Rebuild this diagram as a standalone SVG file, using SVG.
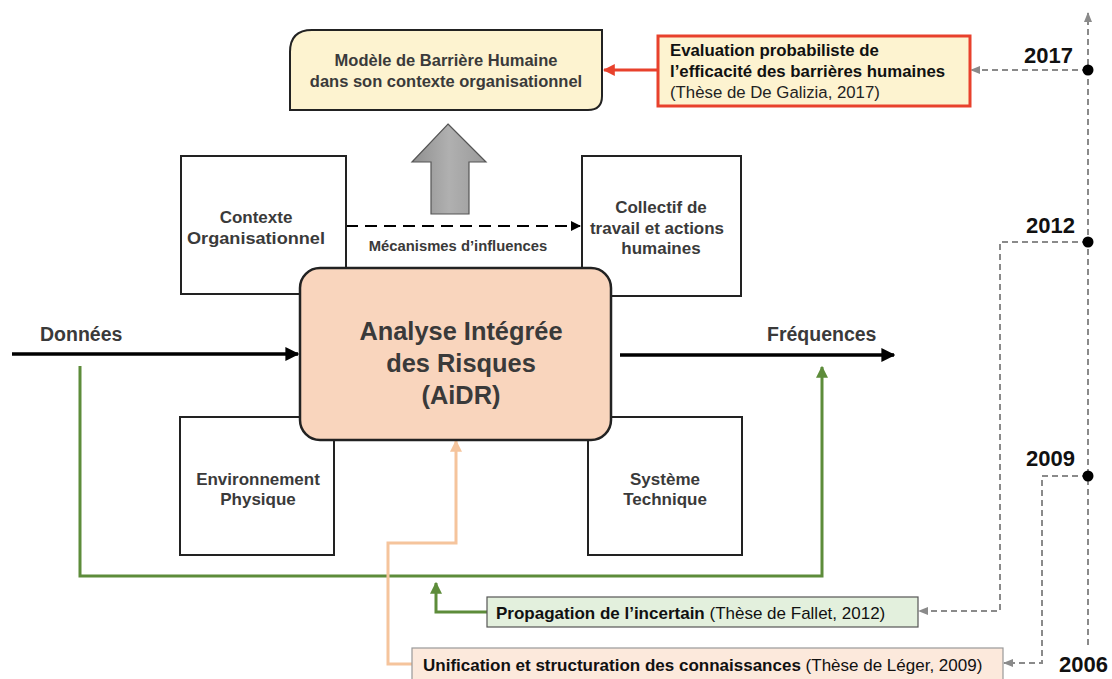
<svg xmlns="http://www.w3.org/2000/svg" width="1112" height="679" viewBox="0 0 1112 679">
<style>
text{font-family:"Liberation Sans",Arial,sans-serif;fill:#3a3a3a}
.b{font-weight:bold}
.box{fill:#fff;stroke:#222;stroke-width:2}
.lbl{font-size:17px;font-weight:bold;text-anchor:middle}
.dash{fill:none;stroke:#8a8a8a;stroke-width:2;stroke-dasharray:6 4}
.yr{font-size:22px;font-weight:bold;fill:#111}
</style>
<defs>
<marker id="ab" viewBox="0 0 10 10" refX="9" refY="5" markerWidth="4" markerHeight="4" orient="auto"><path d="M0,0L10,5L0,10z" fill="#000"/></marker>
<marker id="ab2" viewBox="0 0 10 10" refX="9" refY="5" markerWidth="5" markerHeight="5" orient="auto"><path d="M0,0L10,5L0,10z" fill="#000"/></marker>
<marker id="ag" viewBox="0 0 10 10" refX="9" refY="5" markerWidth="4" markerHeight="4" orient="auto"><path d="M0,0L10,5L0,10z" fill="#5d8c3a"/></marker>
<marker id="ao" viewBox="0 0 10 10" refX="9" refY="5" markerWidth="4" markerHeight="4" orient="auto"><path d="M0,0L10,5L0,10z" fill="#f5c49c"/></marker>
<marker id="ar" viewBox="0 0 10 10" refX="9" refY="5" markerWidth="4" markerHeight="4" orient="auto"><path d="M0,0L10,5L0,10z" fill="#e8412c"/></marker>
<marker id="ay" viewBox="0 0 10 10" refX="9" refY="5" markerWidth="5" markerHeight="5" orient="auto"><path d="M0,1L10,5L0,9z" fill="#8a8a8a"/></marker>
<linearGradient id="gg" x1="0" x2="1"><stop offset="0" stop-color="#8f8f8f"/><stop offset="0.5" stop-color="#b0b0b0"/><stop offset="1" stop-color="#9a9a9a"/></linearGradient>
</defs>

<g id="connectors">
<line x1="12" y1="354" x2="298" y2="354" stroke="#000" stroke-width="3.5" marker-end="url(#ab)"/>
<line x1="620" y1="355" x2="894" y2="355" stroke="#000" stroke-width="3.5" marker-end="url(#ab)"/>
<line x1="346" y1="226" x2="580" y2="226" stroke="#000" stroke-width="2" stroke-dasharray="12 7" marker-end="url(#ab2)"/>
<polyline points="80,366 80,576 822,576 822,367" fill="none" stroke="#5d8c3a" stroke-width="3" marker-end="url(#ag)"/>
<polyline points="487,612 436,612 436,583" fill="none" stroke="#5d8c3a" stroke-width="3" marker-end="url(#ag)"/>
<polyline points="412,664 388,664 388,543 456,543 456,441" fill="none" stroke="#f5c49c" stroke-width="3" marker-end="url(#ao)"/>
<line x1="658" y1="70" x2="604" y2="70" stroke="#e8412c" stroke-width="3" marker-end="url(#ar)"/>
<line x1="1088" y1="645" x2="1088" y2="13" class="dash" marker-end="url(#ay)"/>
<line x1="1088" y1="70" x2="971" y2="70" class="dash" marker-end="url(#ay)"/>
<polyline points="1088,242 1000,242 1000,611 919,611" class="dash" marker-end="url(#ay)"/>
<polyline points="1088,476 1042,476 1042,663 1004,663" class="dash" marker-end="url(#ay)"/>
</g>

<g id="timeline">
<circle cx="1088" cy="70" r="5.5" fill="#000"/>
<circle cx="1088" cy="242" r="5.5" fill="#000"/>
<circle cx="1088" cy="476" r="5.5" fill="#000"/>
<text class="yr" x="1024" y="63">2017</text>
<text class="yr" x="1026" y="233">2012</text>
<text class="yr" x="1026" y="466">2009</text>
<text class="yr" x="1059" y="672">2006</text>
</g>

<g id="model">
<path d="M312,30H602V96Q602,110 588,110H290V52Q290,30 312,30Z" fill="#fdf3d0" stroke="#222" stroke-width="2"/>
<text class="lbl" x="446" y="66" style="font-size:16.5px">Modèle de Barrière Humaine</text>
<text class="lbl" x="446" y="87" style="font-size:16.5px">dans son contexte organisationnel</text>
</g>

<g id="evaluation">
<rect x="658" y="36" width="312" height="70" fill="#fdf3d0" stroke="#e8412c" stroke-width="3"/>
<text x="670" y="56" font-size="16.8" class="b" style="fill:#111">Evaluation probabiliste de</text>
<text x="670" y="77" font-size="16.8" class="b" style="fill:#111">l’efficacité des barrières humaines</text>
<text x="670" y="98" font-size="16.8" style="fill:#222">(Thèse de De Galizia, 2017)</text>
</g>

<g id="bigarrow">
<path d="M448,124L486,162H469V214H431V162H412Z" fill="url(#gg)" stroke="#555" stroke-width="1.2"/>
</g>

<g id="contexte">
<rect class="box" x="181" y="156" width="165" height="138"/>
<text class="lbl" x="256" y="223">Contexte</text>
<text class="lbl" x="256" y="244" textLength="138" lengthAdjust="spacingAndGlyphs">Organisationnel</text>
</g>

<g id="collectif">
<rect class="box" x="582" y="156" width="159" height="140"/>
<text class="lbl" x="661" y="213">Collectif de</text>
<text class="lbl" x="657" y="234">travail et actions</text>
<text class="lbl" x="661" y="254">humaines</text>
</g>

<text x="458" y="251" font-size="14.8" class="b" text-anchor="middle">Mécanismes d’influences</text>

<g id="environnement">
<rect class="box" x="180" y="417" width="154" height="138"/>
<text class="lbl" x="258" y="485">Environnement</text>
<text class="lbl" x="258" y="505">Physique</text>
</g>

<g id="systeme">
<rect class="box" x="588" y="417" width="154" height="138"/>
<text class="lbl" x="665" y="485">Système</text>
<text class="lbl" x="665" y="505">Technique</text>
</g>

<g id="aidr">
<rect x="300" y="268" width="311" height="172" rx="20" fill="#f9d5bd" stroke="#222" stroke-width="2.5"/>
<text x="461" y="340" font-size="25.4" class="b" text-anchor="middle">Analyse Intégrée</text>
<text x="461" y="372" font-size="25.4" class="b" text-anchor="middle">des Risques</text>
<text x="461" y="404" font-size="25.4" class="b" text-anchor="middle">(AiDR)</text>
</g>

<text x="40" y="341" font-size="19.5" class="b">Données</text>
<text x="767" y="341" font-size="19.5" class="b">Fréquences</text>

<g id="propagation">
<rect x="487" y="597" width="431" height="30" fill="#e3f0dd" stroke="#555" stroke-width="1.2"/>
<text x="496" y="619" font-size="17" style="fill:#111"><tspan class="b">Propagation de l’incertain</tspan> (Thèse de Fallet, 2012)</text>
</g>

<g id="unification">
<rect x="412" y="648" width="591" height="34" fill="#fce9dc" stroke="#999" stroke-width="1.2"/>
<text x="423" y="671" font-size="17" style="fill:#111"><tspan class="b">Unification et structuration des connaissances</tspan> (Thèse de Léger, 2009)</text>
</g>
</svg>
